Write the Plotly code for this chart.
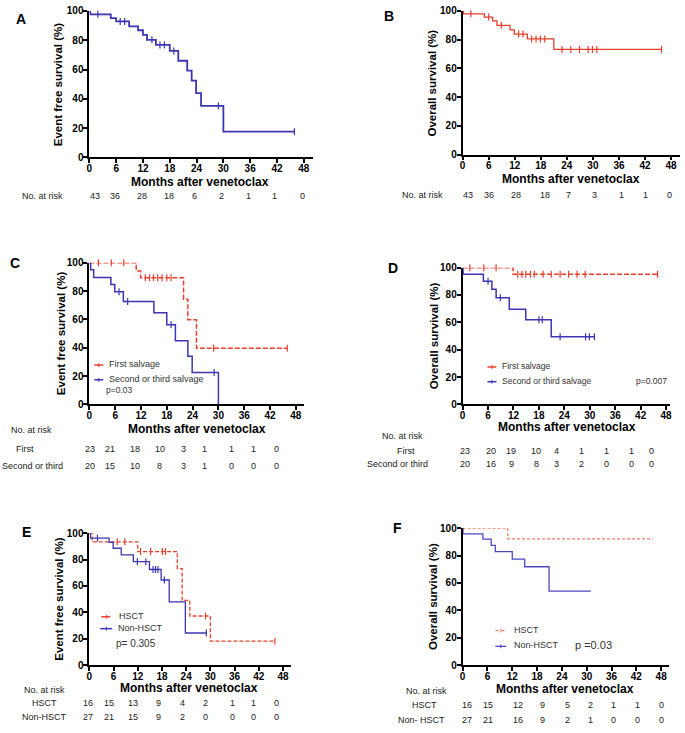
import plotly.graph_objects as go

W, H = 685, 733
FONT = "Arial, Liberation Sans, sans-serif"
BLUE = "#3d35b2"
RED = "#e8402f"
RED_LIGHT = "#f27a64"
BLUE_LIGHT = "#4f46c2"

month_ticks = [0, 6, 12, 18, 24, 30, 36, 42, 48]
surv_ticks = [0, 20, 40, 60, 80, 100]

# ---------------- data ----------------
# Panel A: event free survival, all patients
A_t = [0, 0.2, 4.8, 6, 8.9, 10.9, 12, 12.9, 14.9, 18, 19.9, 21.9, 22.9, 23.9, 25, 30, 45.9]
A_s = [100, 97.7, 95.1, 92.8, 89.5, 86.8, 83.7, 80.3, 76.8, 72.7, 66.0, 59.3, 52.4, 43.9, 35.2, 17.6, 17.6]
A_cens = [1.9, 6.9, 7.9, 14, 15.8, 16.8, 18.9, 28.9, 45.9]
A_risk = [43, 36, 28, 18, 6, 2, 1, 1, 0]

# Panel B: overall survival, all patients
B_t = [0, 0.2, 5, 6.9, 7.9, 10.9, 11.9, 14.9, 21, 45.8]
B_s = [100, 98.0, 95.7, 93.0, 90.0, 86.8, 83.9, 80.5, 73.2, 73.2]
B_cens = [1.9, 6, 8.9, 12.9, 13.9, 15.9, 16.9, 17.9, 18.9, 22.9, 24.9, 26.9, 28.9, 29.9, 30.9, 45.8]
B_risk = [43, 36, 28, 18, 7, 3, 1, 1, 0]

# Panel C: EFS by salvage line
C1_t = [0, 10.9, 11.9, 21.9, 22.9, 24.9, 46]
C1_s = [100, 94.2, 89.4, 74.3, 59.7, 39.6, 39.6]
C1_cens = [2.1, 5.1, 8, 13, 14, 14.9, 15.9, 16.9, 18, 19, 28.9, 46]
C2_t = [0, 0.3, 1, 5, 5.9, 7.9, 15, 18, 20, 22.9, 23.9, 30]
C2_s = [100, 95.1, 89.6, 84.7, 79.6, 72.7, 64.6, 56.2, 44.9, 34.0, 22.5, 0]
C2_cens = [6.9, 8.9, 19, 29]
C_risk_first = [23, 21, 18, 10, 3, 1, 1, 1, 0]
C_risk_second = [20, 15, 10, 8, 3, 1, 0, 0, 0]

# Panel D: OS by salvage line
D1_t = [0, 11.9, 46]
D1_s = [100, 95.2, 95.2]
D1_cens = [1.7, 5, 7.9, 13, 14, 14.9, 16, 16.9, 19, 20.9, 23, 25, 27, 28.9, 46]
D2_t = [0, 0.1, 4.9, 6.9, 7.9, 11, 14.9, 20.9, 31.1]
D2_s = [100, 95.2, 90.0, 84.2, 78.0, 69.5, 61.9, 49.4, 49.4]
D2_cens = [6, 8.9, 18, 18.8, 23, 29, 29.9, 31.1]
D_risk_first = [23, 20, 19, 10, 4, 1, 1, 1, 0]
D_risk_second = [20, 16, 9, 8, 3, 2, 0, 0, 0]

# Panel E: EFS by HSCT
E1_t = [0, 0.7, 12, 21.8, 23, 24.9, 30, 46]
E1_s = [100, 93.5, 86.1, 73.2, 49.1, 37.2, 18.1, 18.1]
E1_cens = [6.9, 8.8, 12.7, 15.2, 18.1, 18.9, 28.8, 46]
E2_t = [0, 0.3, 4.9, 5.9, 7.9, 10.9, 14.9, 17.8, 19.8, 23.8, 29]
E2_s = [100, 96.3, 93.1, 88.6, 83.6, 78.4, 72.5, 64.5, 47.9, 24.3, 24.3]
E2_cens = [2, 11.9, 14, 15.8, 16.4, 17, 18.6, 29]
E_risk_hsct = [16, 15, 13, 9, 4, 2, 1, 1, 0]
E_risk_non = [27, 21, 15, 9, 2, 0, 0, 0, 0]

# Panel F: OS by HSCT
F1_t = [0, 10.9, 46]
F1_s = [100, 92.3, 92.3]
F2_t = [0, 0.1, 4.9, 6.9, 7.9, 12, 15, 20.9, 31]
F2_s = [100, 95.9, 92.1, 87.5, 83.0, 77.5, 71.9, 54.0, 54.0]
F_risk_hsct = [16, 15, 12, 9, 5, 2, 1, 1, 0]
F_risk_non = [27, 21, 16, 9, 2, 1, 0, 0, 0]


# ---------------- helpers ----------------
def pxx(x):
    return x / W


def pyy(y):
    return 1 - y / H


def step_at(ts, ss, t):
    v = ss[0]
    for ti, si in zip(ts, ss):
        if ti <= t:
            v = si
    return v


fig = go.Figure()
layout = {}
annotations = []
shapes = []


def ann(text, x, y, size=9, bold=False, xanchor="center", angle=0, color="#222"):
    annotations.append(dict(
        text=text, x=pxx(x), y=pyy(y - 1), xref="paper", yref="paper",
        showarrow=False, xanchor=xanchor, yanchor="middle", textangle=angle,
        borderpad=0,
        font=dict(family=FONT, size=size, color=color,
                  weight="bold" if bold else "normal")))


# panel geometry: (x0 px, px per month, xmax, ytop px, ybot px)
geom = {
    1: (87, 4.5, 50, 5, 154),
    2: (463, 4.375, 50, 5, 151),
    3: (87, 4.333, 50, 261, 405),
    4: (463, 4.27, 49, 266, 405),
    5: (87, 4.0625, 50, 536, 670),
    6: (463, 4.1667, 50, 531, 670),
}

for i, (x0, sc, xmax, yt, yb) in geom.items():
    xk = "xaxis" if i == 1 else f"xaxis{i}"
    yk = "yaxis" if i == 1 else f"yaxis{i}"
    xa = "x" if i == 1 else f"x{i}"
    ya = "y" if i == 1 else f"y{i}"
    common = dict(showline=True, linecolor="black", linewidth=1.8, ticks="outside",
                  ticklen=4, tickwidth=1.5, tickcolor="black", showgrid=False,
                  zeroline=False, fixedrange=True,
                  tickfont=dict(family=FONT, size=10, color="black", weight="bold"))
    layout[xk] = dict(domain=[pxx(x0), pxx(x0 + sc * xmax)], range=[0, xmax],
                      tickvals=month_ticks, anchor=ya, ticklabelstandoff=-3, **common)
    layout[yk] = dict(domain=[pyy(yb), pyy(yt)], range=[0, 100],
                      tickvals=surv_ticks, anchor=xa, ticklabelstandoff=-2, **common)


def add_curve(i, t, s, color, width, dash="solid", cens=None, msize=5):
    xa = "x" if i == 1 else f"x{i}"
    ya = "y" if i == 1 else f"y{i}"
    fig.add_trace(go.Scatter(x=t, y=s, mode="lines", xaxis=xa, yaxis=ya,
                             line=dict(shape="hv", color=color, width=width, dash=dash),
                             cliponaxis=False, showlegend=False, hoverinfo="skip"))
    if cens:
        fig.add_trace(go.Scatter(x=cens, y=[step_at(t, s, c) for c in cens], mode="markers",
                                 xaxis=xa, yaxis=ya, cliponaxis=False, showlegend=False,
                                 hoverinfo="skip",
                                 marker=dict(symbol="line-ns", size=msize, color=color,
                                             line=dict(width=1.2, color=color))))


add_curve(1, A_t, A_s, BLUE, 1.8, cens=A_cens)
add_curve(2, B_t, B_s, RED, 1.3, cens=B_cens)
add_curve(3, C1_t, C1_s, RED, 1.5, dash="5px,2px", cens=C1_cens)
add_curve(3, C2_t, C2_s, BLUE, 1.5, cens=C2_cens)
add_curve(4, D1_t, D1_s, RED, 1.5, dash="5px,2px", cens=D1_cens)
add_curve(4, D2_t, D2_s, BLUE, 1.5, cens=D2_cens)
add_curve(5, E1_t, E1_s, RED, 1.3, dash="4px,2px", cens=E1_cens)
add_curve(5, E2_t, E2_s, BLUE, 1.3, cens=E2_cens)
add_curve(6, F1_t, F1_s, RED_LIGHT, 1.3, dash="3px,2px")
add_curve(6, F2_t, F2_s, BLUE_LIGHT, 1.3)

# panel letters
for letter, x, y in [("A", 18, 14), ("B", 389, 11), ("C", 12, 262),
                     ("D", 393, 267), ("E", 24, 536), ("F", 397, 532)]:
    ann(letter, x, y, size=14, bold=True, color="black")

# axis titles
XT = "Months after venetoclax"
for x, y in [(198, 180), (572, 177), (195, 431), (568, 429.5), (187, 694.5), (566, 695.5)]:
    ann(XT, x, y, size=12, bold=True, color="black")
for text, x, y in [("Event free survival (%)", 55, 80), ("Overall survival (%)", 432, 78),
                   ("Event free survival (%)", 58, 333), ("Overall survival (%)", 434, 335),
                   ("Event free survival (%)", 57, 603), ("Overall survival (%)", 433, 600)]:
    ann(text, x, y + 1, size=11.5, bold=True, angle=-90, color="black")

# risk tables
risk_x = {
    "A": [93, 113, 140, 167, 193, 220, 247, 273, 302],
    "B": [468, 490, 517, 546, 570, 596, 623, 647, 671],
    "C": [88, 108, 133, 158, 182, 203, 230, 252, 276],
    "D": [465, 492, 512, 537, 558, 583, 608, 633, 653],
    "E": [86, 107, 131, 157, 181, 204, 231, 252, 276],
    "F": [467, 489, 519, 543, 569, 592, 615, 639, 663],
}


def risk_row(vals, xs, y):
    for v, x in zip(vals, xs):
        ann(str(v), x, y, size=9)


ann("No. at risk", 40, 194)
risk_row(A_risk, risk_x["A"], 194)
ann("No. at risk", 423, 193)
risk_row(B_risk, risk_x["B"], 193)

ann("No. at risk", 29, 432)
ann("First", 22, 451)
ann("Second or third", 30, 469)
risk_row(C_risk_first, risk_x["C"], 451)
risk_row(C_risk_second, risk_x["C"], 469)

ann("No. at risk", 402, 438)
ann("First", 406, 453)
ann("Second or third", 397, 467)
risk_row(D_risk_first, risk_x["D"], 453)
risk_row(D_risk_second, risk_x["D"], 467)

ann("No. at risk", 42, 696)
ann("HSCT", 42, 710)
ann("Non-HSCT", 42, 724)
risk_row(E_risk_hsct, risk_x["E"], 710)
risk_row(E_risk_non, risk_x["E"], 724)

ann("No. at risk", 427, 697)
ann("HSCT", 425, 712)
ann("Non- HSCT", 422, 727)
risk_row(F_risk_hsct, risk_x["F"], 712)
risk_row(F_risk_non, risk_x["F"], 727)


# legends (sample line + censor tick + label)
def legend_item(x1, x2, y, color, dash, label, tx, size=9, width=1.5):
    shapes.append(dict(type="line", xref="paper", yref="paper",
                       x0=pxx(x1), x1=pxx(x2), y0=pyy(y), y1=pyy(y),
                       line=dict(color=color, width=width, dash=dash)))
    xm = (x1 + x2) / 2
    shapes.append(dict(type="line", xref="paper", yref="paper",
                       x0=pxx(xm), x1=pxx(xm), y0=pyy(y - 2), y1=pyy(y + 2),
                       line=dict(color=color, width=1)))
    ann(label, tx, y, size=size, xanchor="left", color="#333")


legend_item(92, 101, 365, RED, "dash", "First salvage", 106)
legend_item(92, 101, 380, BLUE, "solid", "Second or third salvage", 106)
ann("p=0.03", 103, 391, size=8.5, xanchor="left", color="#333")

legend_item(488, 497, 367, RED, "dash", "First salvage", 502, size=8.5)
legend_item(488, 497, 382, BLUE, "solid", "Second or third salvage", 502, size=8.5)
ann("p=0.007", 670, 382, size=8.5, xanchor="right", color="#333")

legend_item(99, 110, 621, RED, "dash", "HSCT", 116)
legend_item(98, 110, 633, BLUE, "solid", "Non-HSCT", 115)
ann("p= 0.305", 113, 649, size=10, xanchor="left", color="#333")

legend_item(496, 507, 635, RED_LIGHT, "dot", "HSCT", 514, size=9, width=1.3)
legend_item(496, 507, 651, BLUE_LIGHT, "solid", "Non-HSCT", 514, size=9, width=1.3)
ann("p =0.03", 575, 651, size=11, xanchor="left", color="#333")

fig.update_layout(width=W, height=H, margin=dict(l=0, r=0, t=0, b=0),
                  paper_bgcolor="white", plot_bgcolor="white",
                  annotations=annotations, shapes=shapes,
                  font=dict(family=FONT), **layout)

fig.write_html("out.html", config={"displayModeBar": False},
               post_script="document.body.style.margin='0';"
                           "document.body.style.overflow='hidden';")
